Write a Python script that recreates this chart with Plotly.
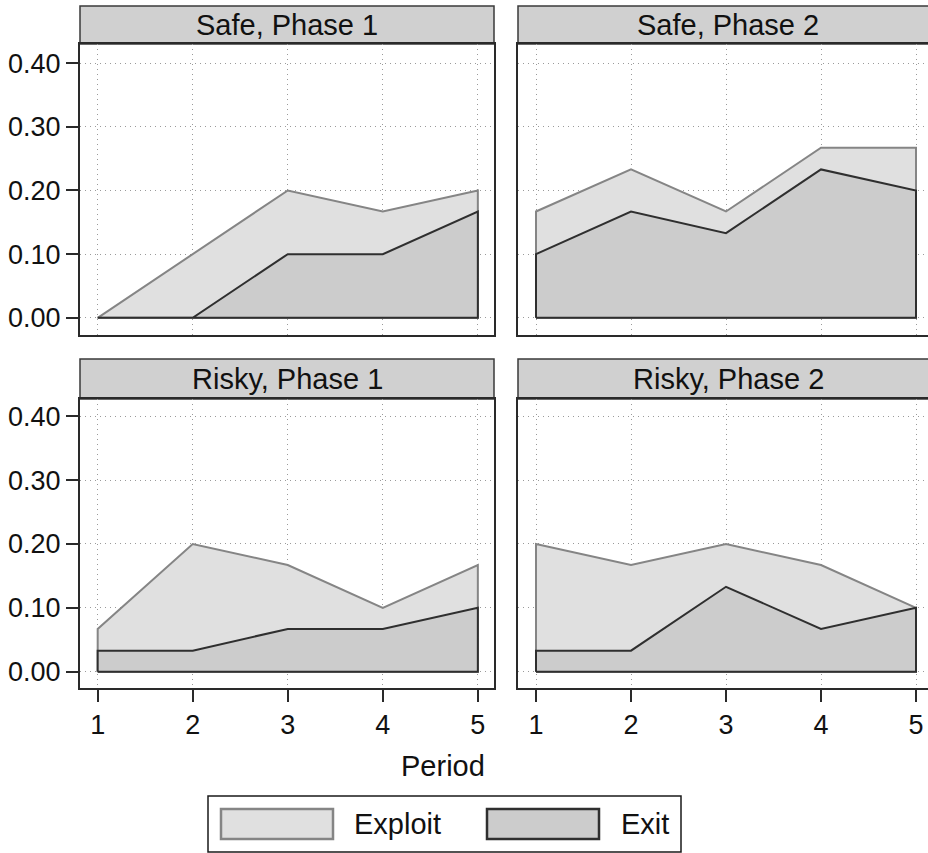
import plotly.graph_objects as go

periods = [1, 2, 3, 4, 5]
panel_titles = ["Safe, Phase 1", "Safe, Phase 2", "Risky, Phase 1", "Risky, Phase 2"]
exploit_safe_p1 = [0.0, 0.1, 0.2, 0.167, 0.2]
exit_safe_p1 = [0.0, 0.0, 0.1, 0.1, 0.167]
exploit_safe_p2 = [0.167, 0.233, 0.167, 0.267, 0.267]
exit_safe_p2 = [0.1, 0.167, 0.133, 0.233, 0.2]
exploit_risky_p1 = [0.067, 0.2, 0.167, 0.1, 0.167]
exit_risky_p1 = [0.033, 0.033, 0.067, 0.067, 0.1]
exploit_risky_p2 = [0.2, 0.167, 0.2, 0.167, 0.1]
exit_risky_p2 = [0.033, 0.033, 0.133, 0.067, 0.1]
y_ticks = [0.0, 0.1, 0.2, 0.3, 0.4]
y_ticklabels = ["0.00", "0.10", "0.20", "0.30", "0.40"]

W, H = 928, 853
FONT = "Liberation Sans, Arial, sans-serif"
EXPLOIT_FILL, EXPLOIT_LINE = "#e0e0e0", "#858585"
EXIT_FILL, EXIT_LINE = "#cccccc", "#2f2f2f"
FRAME = "#2a2a2a"
GRID = "#9a9a9a"

def px_x(p):
    return min(max(p / W, 0.0), 1.0)

def px_y(p):
    return min(max(1 - p / H, 0.0), 1.0)

panels = [
    (exploit_safe_p1, exit_safe_p1),
    (exploit_safe_p2, exit_safe_p2),
    (exploit_risky_p1, exit_risky_p1),
    (exploit_risky_p2, exit_risky_p2),
]
# pixel boxes in window coords (left, right, top, bottom, strip top)
boxes = [
    (80, 494, 44, 335, 6),
    (518, 928, 44, 335, 6),
    (80, 494, 399, 688, 359),
    (518, 928, 399, 688, 359),
]

fig = go.Figure()
for i, (expl, ex) in enumerate(panels):
    sfx = "" if i == 0 else str(i + 1)
    for vals, fillc, linec in [(expl, EXPLOIT_FILL, EXPLOIT_LINE), (ex, EXIT_FILL, EXIT_LINE)]:
        xs = [periods[0]] + periods + [periods[-1], periods[0]]
        ys = [0] + vals + [0, 0]
        fig.add_trace(go.Scatter(
            x=xs, y=ys, mode="lines", fill="toself", fillcolor=fillc,
            line=dict(color=linec, width=2), xaxis="x" + sfx, yaxis="y" + sfx,
            showlegend=False, hoverinfo="skip"))

shapes = []
annotations = []
layout = dict(template="none", width=W, height=H,
              margin=dict(l=0, r=0, t=0, b=0, autoexpand=False),
              paper_bgcolor="white", plot_bgcolor="white", showlegend=False,
              font=dict(family=FONT, size=27, color="#111111"))
for i, (l, r, t, b, st) in enumerate(boxes):
    sfx = "" if i == 0 else str(i + 1)
    bottom = i >= 2
    left = i % 2 == 0
    # right panels: x=1 at ~536, x=5 at ~916, frame runs past the window edge
    xr = [0.814, 5.17] if left else [1 - 18 / 95.0, 5 + (928 - 916) / 95.0]
    yr = [-0.027, 0.43] if not bottom else [-0.0255, 0.427]
    layout["xaxis" + sfx] = dict(
        domain=[px_x(l), px_x(r)], range=xr, anchor="y" + sfx, automargin=False,
        tickvals=periods, ticktext=[str(p) for p in periods], ticklabeloverflow="allow",
        showticklabels=bottom, ticks="outside" if bottom else "", ticklen=12,
        tickwidth=1.5, tickcolor=FRAME, showline=True, linecolor=FRAME, linewidth=2,
        mirror=True, showgrid=True, gridcolor=GRID, griddash="1px,4px", gridwidth=1,
        zeroline=False, tickfont=dict(size=27))
    layout["yaxis" + sfx] = dict(
        domain=[px_y(b), px_y(t)], range=yr, anchor="x" + sfx, automargin=False,
        tickvals=y_ticks, ticktext=y_ticklabels, showticklabels=left,
        ticklabeloverflow="allow",
        ticks="outside" if left else "", ticklen=12, tickwidth=1.5, tickcolor=FRAME,
        showline=True, linecolor=FRAME, linewidth=2, mirror=True, showgrid=True,
        gridcolor=GRID, griddash="1px,4px", gridwidth=1, zeroline=False,
        tickfont=dict(size=27))
    # strip
    shapes.append(dict(type="rect", xref="paper", yref="paper",
                       x0=px_x(l), x1=px_x(r) + (0.01 if not left else 0), y0=px_y(t), y1=px_y(st),
                       fillcolor="#d0d0d0", line=dict(color="#3a3a3a", width=1.5),
                       layer="below"))
    annotations.append(dict(text=panel_titles[i], xref="paper", yref="paper",
                            x=(l + r) / 2 / W if left else (518 + 938) / 2 / W,
                            y=px_y((st + t) / 2),
                            xanchor="center", yanchor="middle", showarrow=False,
                            font=dict(size=29, color="#111111")))

# axis title
annotations.append(dict(text="Period", xref="paper", yref="paper", x=px_x(443), y=px_y(766),
                        xanchor="center", yanchor="middle", showarrow=False,
                        font=dict(size=29, color="#111111")))
# legend
shapes.append(dict(type="rect", xref="paper", yref="paper", x0=px_x(208), x1=px_x(681),
                   y0=px_y(852), y1=px_y(796), fillcolor="white",
                   line=dict(color="#1a1a1a", width=1.5)))
legend_items = [("Exploit", EXPLOIT_FILL, EXPLOIT_LINE, 221, 333, 352),
                ("Exit", EXIT_FILL, EXIT_LINE, 487, 599, 619)]
for name, fc, lc, sx0, sx1, tx in legend_items:
    shapes.append(dict(type="rect", xref="paper", yref="paper", x0=px_x(sx0), x1=px_x(sx1),
                       y0=px_y(839), y1=px_y(809), fillcolor=fc, line=dict(color=lc, width=2.5)))
    annotations.append(dict(text=name, xref="paper", yref="paper", x=px_x(tx), y=px_y(824),
                            xanchor="left", yanchor="middle", showarrow=False,
                            font=dict(size=29, color="#111111")))

layout["shapes"] = shapes
layout["annotations"] = annotations
fig.update_layout(**layout)
fig.write_html("out.html", config={"displayModeBar": False},
               post_script="document.body.style.margin='0';document.body.style.overflow='hidden';")
